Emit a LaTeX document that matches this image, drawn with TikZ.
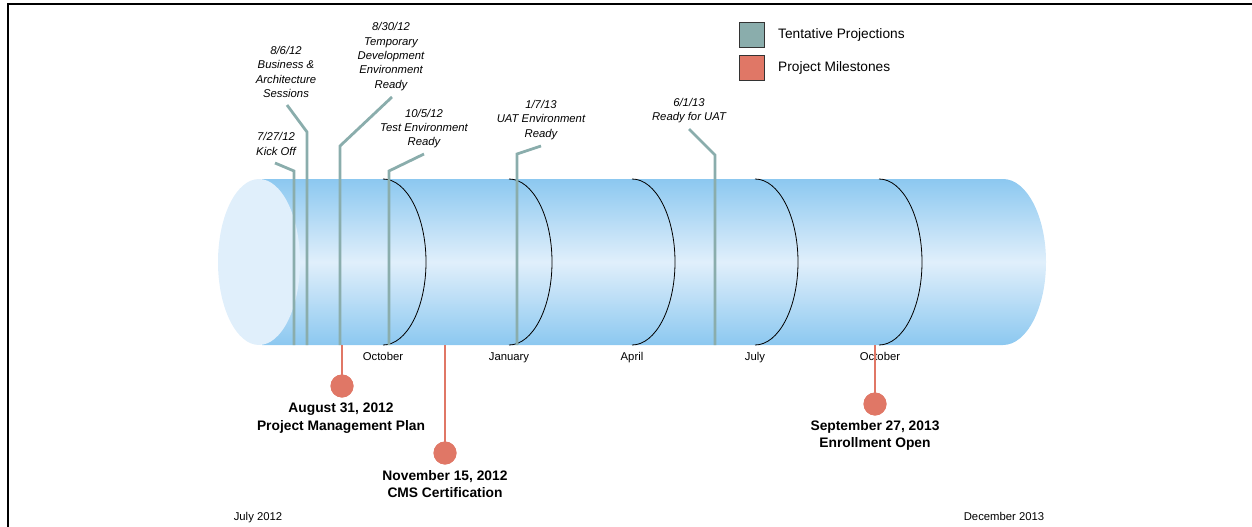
\documentclass[tikz,border=0pt]{standalone}
\usepackage{fontspec}
\setmainfont{Liberation Sans}
\definecolor{cylblue}{HTML}{8CC8F0}
\definecolor{cylmid}{HTML}{E0EFFB}
\definecolor{capfill}{HTML}{E0EFFB}
\definecolor{tealc}{HTML}{8AADAC}
\definecolor{redc}{HTML}{E07766}
\newcommand\smit{\fontsize{11.3}{14.3}\selectfont\itshape}
\newcommand\bigbf{\fontsize{13.8}{17.5}\selectfont\bfseries}
\newcommand\monthf{\fontsize{11.3}{13}\selectfont}
\newcommand\legf{\fontsize{13.7}{16}\selectfont}
\begin{document}
\begin{tikzpicture}[x=1pt,y=-1pt,
  projline/.style={draw=tealc, line width=2.8pt},
  mileline/.style={draw=redc, line width=2.6pt},
  miledot/.style={circle, fill=redc, minimum size=23pt, inner sep=0pt},
  monthcurve/.style={draw=black, line width=0.8pt},
  plabel/.style={font=\smit, align=center, inner sep=0pt},
  mlabel/.style={font=\bigbf, align=center, inner sep=0pt},
  monthlab/.style={font=\monthf, inner sep=0pt, anchor=base},
  legbox/.style={draw=black!80, line width=0.8pt, minimum size=25pt, inner sep=0pt},
  legtext/.style={font=\legf, anchor=west, inner sep=0pt}]
\useasboundingbox (0,0) rectangle (1252,527);
% frame
\draw[line width=2pt, line join=miter] (8,527) -- (8,4.3) -- (1252,4.3);
% cylinder body
\shade[top color=cylblue, bottom color=cylblue, middle color=cylmid]
  (262,179) -- (1003,179) arc[start angle=90, end angle=-90, x radius=43pt, y radius=83pt]
  -- (262,345) -- cycle;
\fill[capfill] (259,262) ellipse[x radius=41pt, y radius=83pt];
% month curves
\foreach \mx in {383,509,632,755,879}
  \draw[monthcurve] (\mx,179) arc[start angle=90, end angle=-90, x radius=43pt, y radius=83pt];
% month labels
\node[monthlab] (m1) at (383,360) {October};
\node[monthlab] (m2) at (509,360) {January};
\node[monthlab] (m3) at (632,360) {April};
\node[monthlab] (m4) at (755,360) {July};
\node[monthlab] (m5) at (880,360) {October};
% projection labels
\node[plabel] (p1) at (276,144) {7/27/12\\Kick Off};
\node[plabel] (p2) at (286,72) {8/6/12\\Business \&\\Architecture\\Sessions};
\node[plabel] (p3) at (391,56.5) {8/30/12\\Temporary\\Development\\Environment\\Ready};
\node[plabel] (p4) at (424,128.5) {10/5/12\\Test Environment\\Ready};
\node[plabel] (p5) at (541,120) {1/7/13\\UAT Environment\\Ready};
\node[plabel] (p6) at (689,110.5) {6/1/13\\Ready for UAT};
% projection lines
\coordinate (a1) at (275,163); \coordinate (b1) at (294,171); \coordinate (c1) at (294,345);
\coordinate (a2) at (287,105); \coordinate (b2) at (307,132); \coordinate (c2) at (307,345);
\coordinate (a3) at (392,97);  \coordinate (b3) at (340,146); \coordinate (c3) at (340,345);
\coordinate (a4) at (424,154); \coordinate (b4) at (389,171); \coordinate (c4) at (389,345);
\coordinate (a5) at (541,146); \coordinate (b5) at (517,154); \coordinate (c5) at (517,345);
\coordinate (a6) at (689,129); \coordinate (b6) at (715,155); \coordinate (c6) at (715,345);
\foreach \i in {1,...,6}
  \draw[projline] (a\i) -- (b\i) -- (c\i);
% milestones
\coordinate (t1) at (342,345);
\coordinate (t2) at (445,345);
\coordinate (t3) at (875,345);
\node[miledot] (d1) at (342,386) {};
\node[miledot] (d2) at (445,453) {};
\node[miledot] (d3) at (875,404) {};
\draw[mileline] (t1) -- (d1.center);
\draw[mileline] (t2) -- (d2.center);
\draw[mileline] (t3) -- (d3.center);
\node[miledot] at (d1) {};
\node[miledot] at (d2) {};
\node[miledot] at (d3) {};
\node[mlabel] (l1) at (341,418) {August 31, 2012\\Project Management Plan};
\node[mlabel] (l2) at (445,484) {November 15, 2012\\CMS Certification};
\node[mlabel] (l3) at (875,435.5) {September 27, 2013\\Enrollment Open};
% range labels
\node[monthlab] (s1) at (258,520) {July 2012};
\node[monthlab] (s2) at (1004,520) {December 2013};
% legend
\node[legbox, fill=tealc] (g1) at (751.5,34.5) {};
\node[legbox, fill=redc] (g2) at (751.5,67.5) {};
\node[legtext] (gt1) at (778,34.5) {Tentative Projections};
\node[legtext] (gt2) at (778,67.5) {Project Milestones};
\end{tikzpicture}
\end{document}
